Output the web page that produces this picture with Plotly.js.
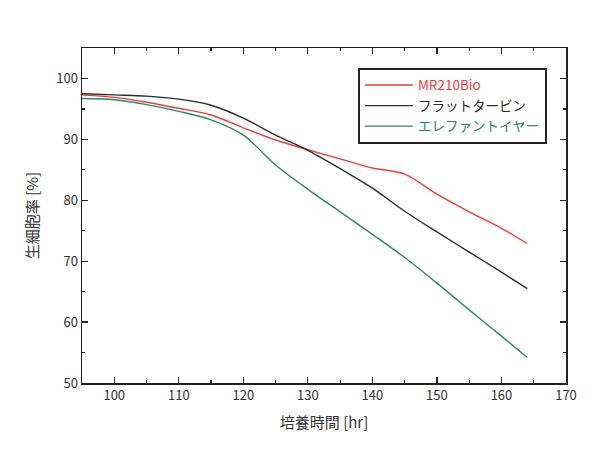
<!DOCTYPE html>
<html>
<head>
<meta charset="utf-8">
<script src="https://cdn.plot.ly/plotly-3.0.1.min.js"></script>
<style>
  body { margin: 0; background: #fff; }
  #chart { width: 601px; height: 466px; }
</style>
</head>
<body>
<div id="chart"></div>
<script>
// culture time [hr]
var hours = [95, 100, 105, 110, 115, 120, 125, 130, 135, 140, 145, 150, 155, 160, 164];

// viability [%]
var mr210bio    = [97.3, 96.9, 96.1, 95.1, 94.0, 91.9, 89.9, 88.3, 86.8, 85.3, 84.3, 81.0, 78.1, 75.4, 72.9];
var flatTurbine = [97.5, 97.3, 97.1, 96.6, 95.6, 93.5, 90.7, 88.2, 85.2, 82.0, 78.2, 74.8, 71.5, 68.2, 65.5];
var elephantEar = [96.7, 96.5, 95.7, 94.6, 93.2, 90.7, 85.8, 81.8, 78.1, 74.4, 70.6, 66.4, 62.0, 57.7, 54.2];

var names  = ['MR210Bio', 'フラットタービン', 'エレファントイヤー'];
var colors = ['#ee3b3b', '#2b2b2b', '#2a8a60'];
var series = [mr210bio, flatTurbine, elephantEar];

var jp = '"Noto Sans CJK JP", "Noto Sans", sans-serif';

var data = series.map(function (ys, k) {
  return {
    x: hours,
    y: ys,
    type: 'scatter',
    mode: 'lines',
    legendgroup: 'g' + k,
    name: '<span style="color:' + colors[k] + '">' + names[k] + '</span>',
    line: { color: colors[k], width: 1.4, shape: 'spline', smoothing: 0.9 }
  };
});

var axisStyle = {
  showgrid: false,
  zeroline: false,
  showline: true,
  linecolor: '#222',
  linewidth: 1.5,
  mirror: 'allticks',
  ticks: 'inside',
  ticklen: 6,
  tickwidth: 1.2,
  tickcolor: '#222',
  tickfont: { family: jp, size: 13, color: '#333' }
};

var layout = {
  width: 601,
  height: 466,
  margin: { l: 82, r: 35, t: 48, b: 83 },
  paper_bgcolor: '#fff',
  plot_bgcolor: '#fff',
  showlegend: true,
  font: { family: jp, color: '#333' },
  xaxis: Object.assign({}, axisStyle, {
    range: [95, 170],
    dtick: 10,
    tick0: 100,
    minor: { dtick: 5, ticks: 'inside', ticklen: 3, tickcolor: '#222' },
    title: { text: '培養時間 [hr]', font: { family: jp, size: 15, color: '#333' }, standoff: 14 }
  }),
  yaxis: Object.assign({}, axisStyle, {
    range: [50, 105],
    dtick: 10,
    tick0: 50,
    minor: { dtick: 5, ticks: 'inside', ticklen: 3, tickcolor: '#222' },
    title: { text: '生細胞率 [%]', font: { family: jp, size: 15, color: '#333' }, standoff: 14 }
  }),
  legend: {
    x: 0.57,
    y: 0.941,
    xanchor: 'left',
    yanchor: 'top',
    bgcolor: '#fff',
    bordercolor: '#222',
    borderwidth: 2,
    itemwidth: 48,
    font: { family: jp, size: 13.5 },
    tracegroupgap: 0
  }
};

Plotly.newPlot('chart', data, layout, { displayModeBar: false, staticPlot: true });
</script>
</body>
</html>
